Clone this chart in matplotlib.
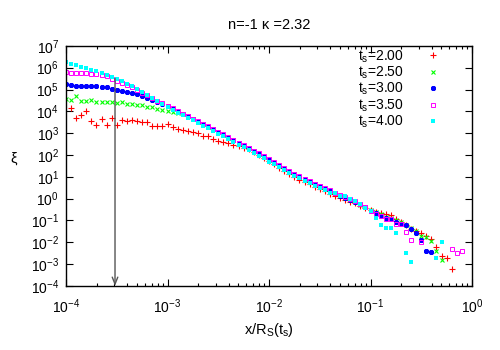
import numpy as np
import matplotlib
matplotlib.use('Agg')
import matplotlib.pyplot as plt
from matplotlib.ticker import LogLocator, NullLocator

plt.rcParams['font.family'] = ['Liberation Sans', 'DejaVu Sans']
plt.rcParams['mathtext.fontset'] = 'custom'
plt.rcParams['mathtext.rm'] = 'Liberation Sans'
plt.rcParams['mathtext.it'] = 'Liberation Sans:italic'
plt.rcParams['mathtext.default'] = 'regular'

nan = np.nan

# log10(x/R_S) bin centres, shared by all series
log_x = [-4.00, -3.95, -3.90, -3.85, -3.80, -3.75, -3.70, -3.65, -3.60, -3.55,
         -3.50, -3.45, -3.40, -3.35, -3.30, -3.25, -3.20, -3.15, -3.10, -3.05,
         -3.00, -2.95, -2.90, -2.85, -2.80, -2.75, -2.70, -2.65, -2.60, -2.55,
         -2.50, -2.45, -2.40, -2.35, -2.30, -2.25, -2.20, -2.15, -2.10, -2.05,
         -2.00, -1.95, -1.90, -1.85, -1.80, -1.75, -1.70, -1.65, -1.60, -1.55,
         -1.50, -1.45, -1.40, -1.35, -1.30, -1.25, -1.20, -1.15, -1.10, -1.05,
         -1.00, -0.95, -0.90, -0.85, -0.80, -0.75, -0.70, -0.65, -0.60, -0.55,
         -0.50, -0.45, -0.40, -0.35, -0.30, -0.25, -0.20, -0.15, -0.10, -0.05]

# log10(xi), one list per t_s
log_xi_200 = [nan, 4.15, 3.69, 3.81, 4.00, 3.54, 3.39, 3.65, 3.39, 3.69,
              3.39, 3.61, 3.54, 3.61, 3.57, 3.49, 3.51, 3.34, 3.31, 3.31,
              3.42, 3.28, 3.19, 3.16, 3.08, 3.05, 3.00, 2.88, 2.85, 2.74,
              2.65, 2.59, 2.55, 2.44, 2.39, 2.34, 2.26, 2.12, 1.99, 1.86,
              1.72, 1.57, 1.42, 1.26, 1.12, 1.00, 0.87, 0.76, 0.65, 0.54,
              0.43, 0.33, 0.22, 0.12, 0.02, -0.08, -0.16, -0.22, -0.32, -0.42,
              -0.52, -0.60, -0.68, -0.72, -0.74, -0.93, -1.05, -1.20, -1.39, -1.46,
              -1.56, -1.71, -1.86, -2.20, -2.62, -2.73, -3.23, nan, nan, nan]
log_xi_250 = [4.58, 4.50, 4.68, 4.49, 4.49, 4.53, 4.43, 4.45, 4.43, 4.45,
              4.38, 4.43, 4.35, 4.33, 4.30, 4.27, 4.20, 4.18, 4.12, 4.06,
              4.03, 3.98, 3.94, 3.88, 3.77, 3.65, 3.53, 3.41, 3.29, 3.17,
              3.04, 2.92, 2.79, 2.67, 2.55, 2.43, 2.31, 2.18, 2.05, 1.92,
              1.78, 1.64, 1.50, 1.36, 1.23, 1.11, 0.99, 0.87, 0.76, 0.65,
              0.55, 0.45, 0.35, 0.24, 0.13, 0.04, -0.05, -0.15, -0.27, -0.40,
              -0.52, -0.62, -0.72, -0.82, -0.90, -1.00, -1.08, -1.20, -1.35, -1.50,
              -1.71, -1.74, -1.94, -2.38, -2.81, nan, nan, nan, nan, nan]
log_xi_300 = [5.25, 5.20, 5.17, 5.16, 5.15, 5.15, 5.14, 5.13, 5.10, 5.04,
              4.99, 4.94, 4.89, 4.84, 4.78, 4.71, 4.61, 4.50, 4.42, 4.33,
              4.23, 4.11, 3.99, 3.88, 3.77, 3.65, 3.53, 3.41, 3.29, 3.17,
              3.04, 2.92, 2.79, 2.67, 2.55, 2.43, 2.31, 2.18, 2.05, 1.92,
              1.79, 1.65, 1.51, 1.37, 1.24, 1.12, 1.00, 0.88, 0.77, 0.66,
              0.56, 0.46, 0.36, 0.25, 0.14, 0.05, -0.04, -0.14, -0.26, -0.39,
              -0.55, -0.66, -0.78, -0.87, -0.95, -1.05, -1.16, -1.20, -1.40, -1.58,
              -1.89, -2.38, -2.43, nan, nan, nan, nan, nan, nan, nan]
log_xi_350 = [5.78, 5.77, 5.76, 5.75, 5.74, 5.73, 5.71, 5.66, 5.60, 5.50,
              5.40, 5.30, 5.22, 5.12, 5.00, 4.86, 4.74, 4.62, 4.49, 4.36,
              4.25, 4.13, 4.01, 3.90, 3.79, 3.67, 3.55, 3.43, 3.31, 3.19,
              3.06, 2.94, 2.81, 2.69, 2.57, 2.45, 2.33, 2.20, 2.07, 1.94,
              1.81, 1.67, 1.53, 1.39, 1.26, 1.14, 1.02, 0.90, 0.79, 0.68,
              0.58, 0.48, 0.38, 0.27, 0.16, 0.07, -0.03, -0.13, -0.25, -0.40,
              -0.55, -0.70, -0.80, -0.94, -0.94, -1.17, -1.17, -1.54, -1.89, nan,
              -1.97, nan, nan, nan, nan, nan, -2.30, -2.47, -2.39, nan]
log_xi_400 = [6.24, 6.18, 6.12, 6.05, 5.99, 5.91, 5.83, 5.76, 5.67, 5.57,
              5.48, 5.38, 5.27, 5.15, 5.01, 4.88, 4.75, 4.61, 4.48, 4.35,
              4.20, 4.07, 3.94, 3.82, 3.71, 3.59, 3.46, 3.34, 3.22, 3.10,
              2.97, 2.85, 2.72, 2.60, 2.48, 2.36, 2.23, 2.10, 1.97, 1.84,
              1.70, 1.57, 1.43, 1.30, 1.17, 1.05, 0.93, 0.81, 0.70, 0.59,
              0.50, 0.40, 0.28, 0.24, 0.14, 0.14, 0.00, -0.12, -0.26, -0.42,
              -0.58, -0.87, -1.20, -1.33, -1.33, -1.56, nan, -2.50, -2.91, nan,
              nan, nan, nan, -2.73, -2.00, nan, nan, nan, nan, nan]

labels = ['t$_s$=2.00', 't$_s$=2.50', 't$_s$=3.00', 't$_s$=3.50', 't$_s$=4.00']
colors = ['#ff0000', '#00ff00', '#0000ff', '#ff00ff', '#00ffff']
x_ticks = [1e-4, 1e-3, 1e-2, 1e-1, 1e0]
y_ticks = [1e-4, 1e-3, 1e-2, 1e-1, 1e0, 1e1, 1e2, 1e3, 1e4, 1e5, 1e6, 1e7]
arrow_x = 3.04e-4
arrow_top = 3.2e5

fig = plt.figure(figsize=(5, 3.5), dpi=100)
ax = fig.add_axes([0.132, 0.183, 0.812, 0.686])

x = 10 ** np.array(log_x)
series = [log_xi_200, log_xi_250, log_xi_300, log_xi_350, log_xi_400]
styles = [dict(marker='+', ms=4, mew=0.8),
          dict(marker='x', ms=3.2, mew=0.8),
          dict(marker=(8, 2, 0), ms=3.6, mew=0.9),
          dict(marker='s', ms=3.4, mew=0.7, mfc='none'),
          dict(marker='s', ms=3.4, mew=0)]
for ly, lab, c, st in zip(series, labels, colors, styles):
    ax.plot(x, 10 ** np.array(ly), ls='none', color=c, label=lab, **st)

# arrow marking the scale down to the x axis
ax.annotate('', xy=(arrow_x, 1e-4), xytext=(arrow_x, arrow_top),
            arrowprops=dict(arrowstyle='->,head_length=0.5,head_width=0.2',
                            color='#555555', lw=1, shrinkA=0, shrinkB=0))

ax.set_xscale('log')
ax.set_yscale('log')
ax.set_xlim(1e-4, 1)
ax.set_ylim(1e-4, 1e7)
ax.set_xticks(x_ticks)
ax.set_yticks(y_ticks)
ax.yaxis.set_minor_locator(NullLocator())
ax.xaxis.set_minor_locator(LogLocator(base=10, subs=np.arange(2, 10), numticks=10))
ax.tick_params(which='both', direction='in', top=True, right=True, labelsize=10)
ax.tick_params(which='major', length=5, width=0.8)
ax.tick_params(which='minor', length=2.5, width=0.8)
ax.tick_params(axis='x', pad=8)
ax.tick_params(axis='y', pad=5)
for s in ax.spines.values():
    s.set_linewidth(1)

ax.set_title('n=-1 κ =2.32', fontsize=10.5, pad=12)
ax.set_xlabel('x/R$_S$(t$_s$)', fontsize=10.5, labelpad=4)
ax.set_ylabel('ξ', fontsize=10.5, rotation=0, labelpad=12)

ax.legend(loc='upper right', bbox_to_anchor=(0.921, 0.99), markerfirst=False,
          frameon=False, fontsize=10, handlelength=1.0, handletextpad=1.6,
          labelspacing=0.0, borderpad=0, borderaxespad=0)

fig.savefig('out.png', dpi=100)
